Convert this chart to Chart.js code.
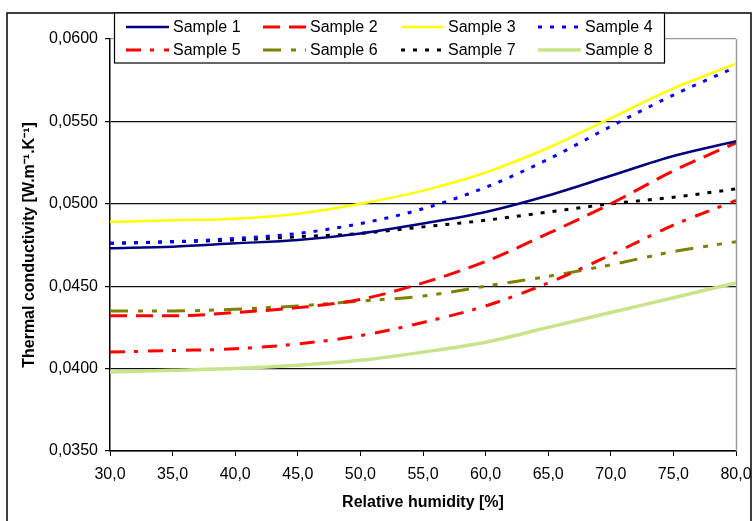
<!DOCTYPE html>
<html>
<head>
<meta charset="utf-8">
<script src="https://cdn.jsdelivr.net/npm/chart.js@4/dist/chart.umd.min.js"></script>
<style>
  html, body { margin: 0; padding: 0; background: #fff; }
  #wrap { width: 752px; height: 521px; }
</style>
</head>
<body>
<div id="wrap"><canvas id="chart" width="752" height="521"></canvas></div>
<script>
// Relative humidity [%]
const humidity = [30, 35, 40, 45, 50, 55, 60, 65, 70, 75, 80];

// Thermal conductivity [W.m-1.K-1] per sample
const sample1 = [0.0473, 0.0474, 0.0476, 0.0478, 0.0482, 0.0488, 0.0495, 0.0505, 0.0517, 0.0529, 0.0538];
const sample2 = [0.0432, 0.0432, 0.0434, 0.0437, 0.0442, 0.0452, 0.0465, 0.0482, 0.0500, 0.0520, 0.0537];
const sample3 = [0.0489, 0.0490, 0.0491, 0.0494, 0.0500, 0.0508, 0.0519, 0.0534, 0.0552, 0.0570, 0.0585];
const sample4 = [0.0476, 0.0477, 0.0479, 0.0482, 0.0488, 0.0497, 0.0510, 0.0527, 0.0547, 0.0566, 0.0583];
const sample5 = [0.0410, 0.0411, 0.0412, 0.0415, 0.0420, 0.0428, 0.0438, 0.0452, 0.0469, 0.0487, 0.0502];
const sample6 = [0.0435, 0.0435, 0.0436, 0.0438, 0.0441, 0.0444, 0.0450, 0.0456, 0.0463, 0.0471, 0.0477];
const sample7 = [0.0476, 0.0477, 0.0478, 0.0480, 0.0482, 0.0486, 0.0490, 0.0495, 0.0500, 0.0504, 0.0509];
const sample8 = [0.0398, 0.0399, 0.0400, 0.0402, 0.0405, 0.0410, 0.0416, 0.0425, 0.0434, 0.0443, 0.0452];

const seriesNames = ['Sample 1', 'Sample 2', 'Sample 3', 'Sample 4', 'Sample 5', 'Sample 6', 'Sample 7', 'Sample 8'];
const seriesValues = [sample1, sample2, sample3, sample4, sample5, sample6, sample7, sample8];

const yMin = 0.035, yMax = 0.060, yStep = 0.005;
const xMin = 30, xMax = 80, xStep = 5;

const FONT = "'Liberation Sans', Arial, sans-serif";

// line look for each sample
const styles = [
  { color: '#000080', width: 2.5, dash: [] },
  { color: '#FF0000', width: 3, dash: [17, 9] },
  { color: '#FFFF00', width: 2.5, dash: [] },
  { color: '#0000FF', width: 3, dash: [4, 8] },
  { color: '#FF0000', width: 3, dash: [15, 9, 4, 10] },
  { color: '#808000', width: 3, dash: [18, 10, 5, 9, 5, 10] },
  { color: '#000000', width: 3, dash: [4, 8] },
  { color: '#C9E38A', width: 3.5, dash: [] }
];

const datasets = seriesNames.map((name, i) => ({
  label: name,
  data: humidity.map((h, j) => ({ x: h, y: seriesValues[i][j] })),
  borderColor: styles[i].color,
  backgroundColor: styles[i].color,
  borderWidth: styles[i].width,
  borderDash: styles[i].dash,
  borderCapStyle: 'butt',
  pointRadius: 0,
  fill: false,
  tension: 0.4,
  cubicInterpolationMode: 'monotone'
}));

// white page, plot-area frame, outer frame and the boxed legend
const decor = {
  id: 'decor',
  beforeDraw(chart) {
    const c = chart.ctx;
    c.save();
    c.fillStyle = '#fff';
    c.fillRect(0, 0, chart.width, chart.height);
    c.restore();
  },
  beforeDatasetsDraw(chart) {
    const { ctx: c, chartArea: a } = chart;
    c.save();
    c.strokeStyle = '#9a9a9a';
    c.lineWidth = 1.5;
    c.beginPath();
    c.moveTo(Math.round(a.right) + 0.5, a.top);
    c.lineTo(Math.round(a.right) + 0.5, a.bottom);
    c.stroke();
    c.restore();
  },
  afterDraw(chart) {
    const c = chart.ctx;
    c.save();
    // outer frame
    c.strokeStyle = '#000';
    c.lineWidth = 1.5;
    c.strokeRect(7, 13, 744, 560);

    // legend box
    const lx = 114.5, ly = 13, lw = 550, lh = 50;
    c.fillStyle = '#fff';
    c.fillRect(lx, ly, lw, lh);
    c.lineWidth = 1.2;
    c.strokeStyle = '#000';
    c.strokeRect(lx, ly, lw, lh);

    const colX = [126, 263, 401, 538];
    const rowY = [27, 50];
    c.font = '16px ' + FONT;
    c.textBaseline = 'middle';
    c.textAlign = 'left';
    chart.data.datasets.forEach((ds, i) => {
      const x = colX[i % 4], y = rowY[Math.floor(i / 4)];
      c.beginPath();
      c.setLineDash(ds.borderDash || []);
      c.lineDashOffset = 0;
      c.strokeStyle = ds.borderColor;
      c.lineWidth = ds.borderWidth;
      c.lineCap = 'butt';
      c.moveTo(x, y);
      c.lineTo(x + 43, y);
      c.stroke();
      c.setLineDash([]);
      c.fillStyle = '#000';
      c.fillText(ds.label, x + 47, y + 1);
    });
    c.restore();
  }
};

new Chart(document.getElementById('chart'), {
  type: 'line',
  data: { datasets },
  plugins: [decor],
  options: {
    responsive: false,
    animation: false,
    devicePixelRatio: 1,
    layout: { padding: { left: 7, right: 16, top: 39, bottom: 0 } },
    plugins: {
      legend: { display: false },
      tooltip: { enabled: false }
    },
    scales: {
      x: {
        type: 'linear',
        min: xMin,
        max: xMax,
        afterFit(scale) {
          scale.height = 70;
          scale.paddingLeft = 0;
          scale.paddingRight = 0;
        },
        ticks: {
          stepSize: xStep,
          color: '#000',
          font: { family: FONT, size: 16 },
          padding: 9,
          maxRotation: 0,
          autoSkip: false,
          callback: v => v.toFixed(1).replace('.', ',')
        },
        grid: { drawOnChartArea: false, drawTicks: true, tickLength: 5, tickColor: '#000', color: '#000' },
        border: { color: '#000', width: 1.5 },
        title: {
          display: true,
          text: 'Relative humidity [%]',
          color: '#000',
          font: { family: FONT, size: 16, weight: 'bold' },
          padding: { top: 0, bottom: 9 }
        }
      },
      y: {
        type: 'linear',
        min: yMin,
        max: yMax,
        afterFit(scale) {
          scale.width = 103;
          scale.paddingTop = 0;
          scale.paddingBottom = 0;
        },
        ticks: {
          stepSize: yStep,
          color: '#000',
          font: { family: FONT, size: 16 },
          padding: 7,
          callback: v => v.toFixed(4).replace('.', ',')
        },
        grid: {
          drawTicks: true,
          tickLength: 5,
          tickColor: '#000',
          lineWidth: 1.2,
          color: ctx => (ctx.tick && Math.abs(ctx.tick.value - yMax) < 1e-9) ? '#9a9a9a' : '#111'
        },
        border: { color: '#000', width: 1.5 },
        title: {
          display: true,
          text: 'Thermal conductivity [W.m⁻¹.K⁻¹]',
          color: '#000',
          font: { family: FONT, size: 16, weight: 'bold' },
          padding: { top: 13, bottom: 0 }
        }
      }
    }
  }
});
</script>
</body>
</html>
